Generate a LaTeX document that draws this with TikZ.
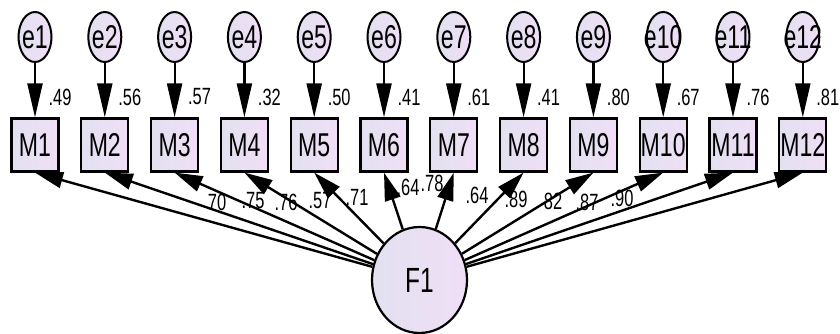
\documentclass[tikz,border=0pt]{standalone}
\usepackage{fontspec}
\setmainfont{Liberation Sans}
\usepackage{graphicx}
\usetikzlibrary{shapes.geometric,arrows.meta}
\definecolor{lavL}{RGB}{226,225,240}
\definecolor{lavR}{RGB}{240,222,246}
\newcommand\sqz[1]{\scalebox{0.7}[1]{#1}}
\newcommand\zw[1]{\makebox[0pt]{\scalebox{0.7}[1]{#1}}}
\begin{document}
\begin{tikzpicture}[x=1pt,y=-1pt,
  errnode/.style={ellipse, draw, line width=2pt, minimum width=33pt, minimum height=50pt, inner sep=0pt, left color=lavL, right color=lavR, font=\fontsize{33}{33}\selectfont},
  obsnode/.style={rectangle, draw, line width=2.2pt, minimum width=47pt, minimum height=53pt, inner sep=0pt, left color=lavL, right color=lavR, font=\fontsize{33}{33}\selectfont},
  latnode/.style={ellipse, draw, line width=2.2pt, minimum width=95pt, minimum height=106pt, inner sep=0pt, left color=lavL, right color=lavR, font=\fontsize{35}{35}\selectfont},
  earrow/.style={line width=2.2pt, -{Triangle[length=34pt,width=15pt]}},
  larrow/.style={line width=2.4pt, -{Triangle[length=28pt,width=16pt]}},
  lbl/.style={font=\fontsize{23.5}{23.5}\selectfont, inner sep=0pt}]
\fill[white] (0,0) rectangle (840,334);
\useasboundingbox (0,0) rectangle (840,334);
\foreach \i/\r in {1/.49,2/.56,3/.57,4/.32,5/.50,6/.41,7/.61,8/.41,9/.80,10/.67,11/.76,12/.81} {
  \pgfmathsetmacro\xx{35+69.8*(\i-1)}
  \node[errnode] (e\i) at (\xx,37) {\zw{e\i}};
  \node[obsnode] (M\i) at (\xx,145) {\zw{M\i}};
  \node[lbl] (r\i) at (\xx+25,97) {\sqz{\r}};
  \draw[earrow] (e\i) -- (M\i);
}
\node[latnode] (F1) at (419.5,280) {\sqz{F1}};
\foreach \i/\x/\y/\t in {1/217/202/70,2/253/201/.75,3/286/202/.76,4/320/201/.57,5/357/197/.71,6/408/187/.64,7/432/183/.78,8/477/195/.64,9/516/199/.89,10/553/201/82,11/587/202/.87,12/622/198/.90} {
  \node[lbl] (l\i) at (\x,\y) {\sqz{\t}};
}
\foreach \i in {1,...,12} {
  \draw[larrow] (F1) -- (M\i.south);
}
\end{tikzpicture}
\end{document}
